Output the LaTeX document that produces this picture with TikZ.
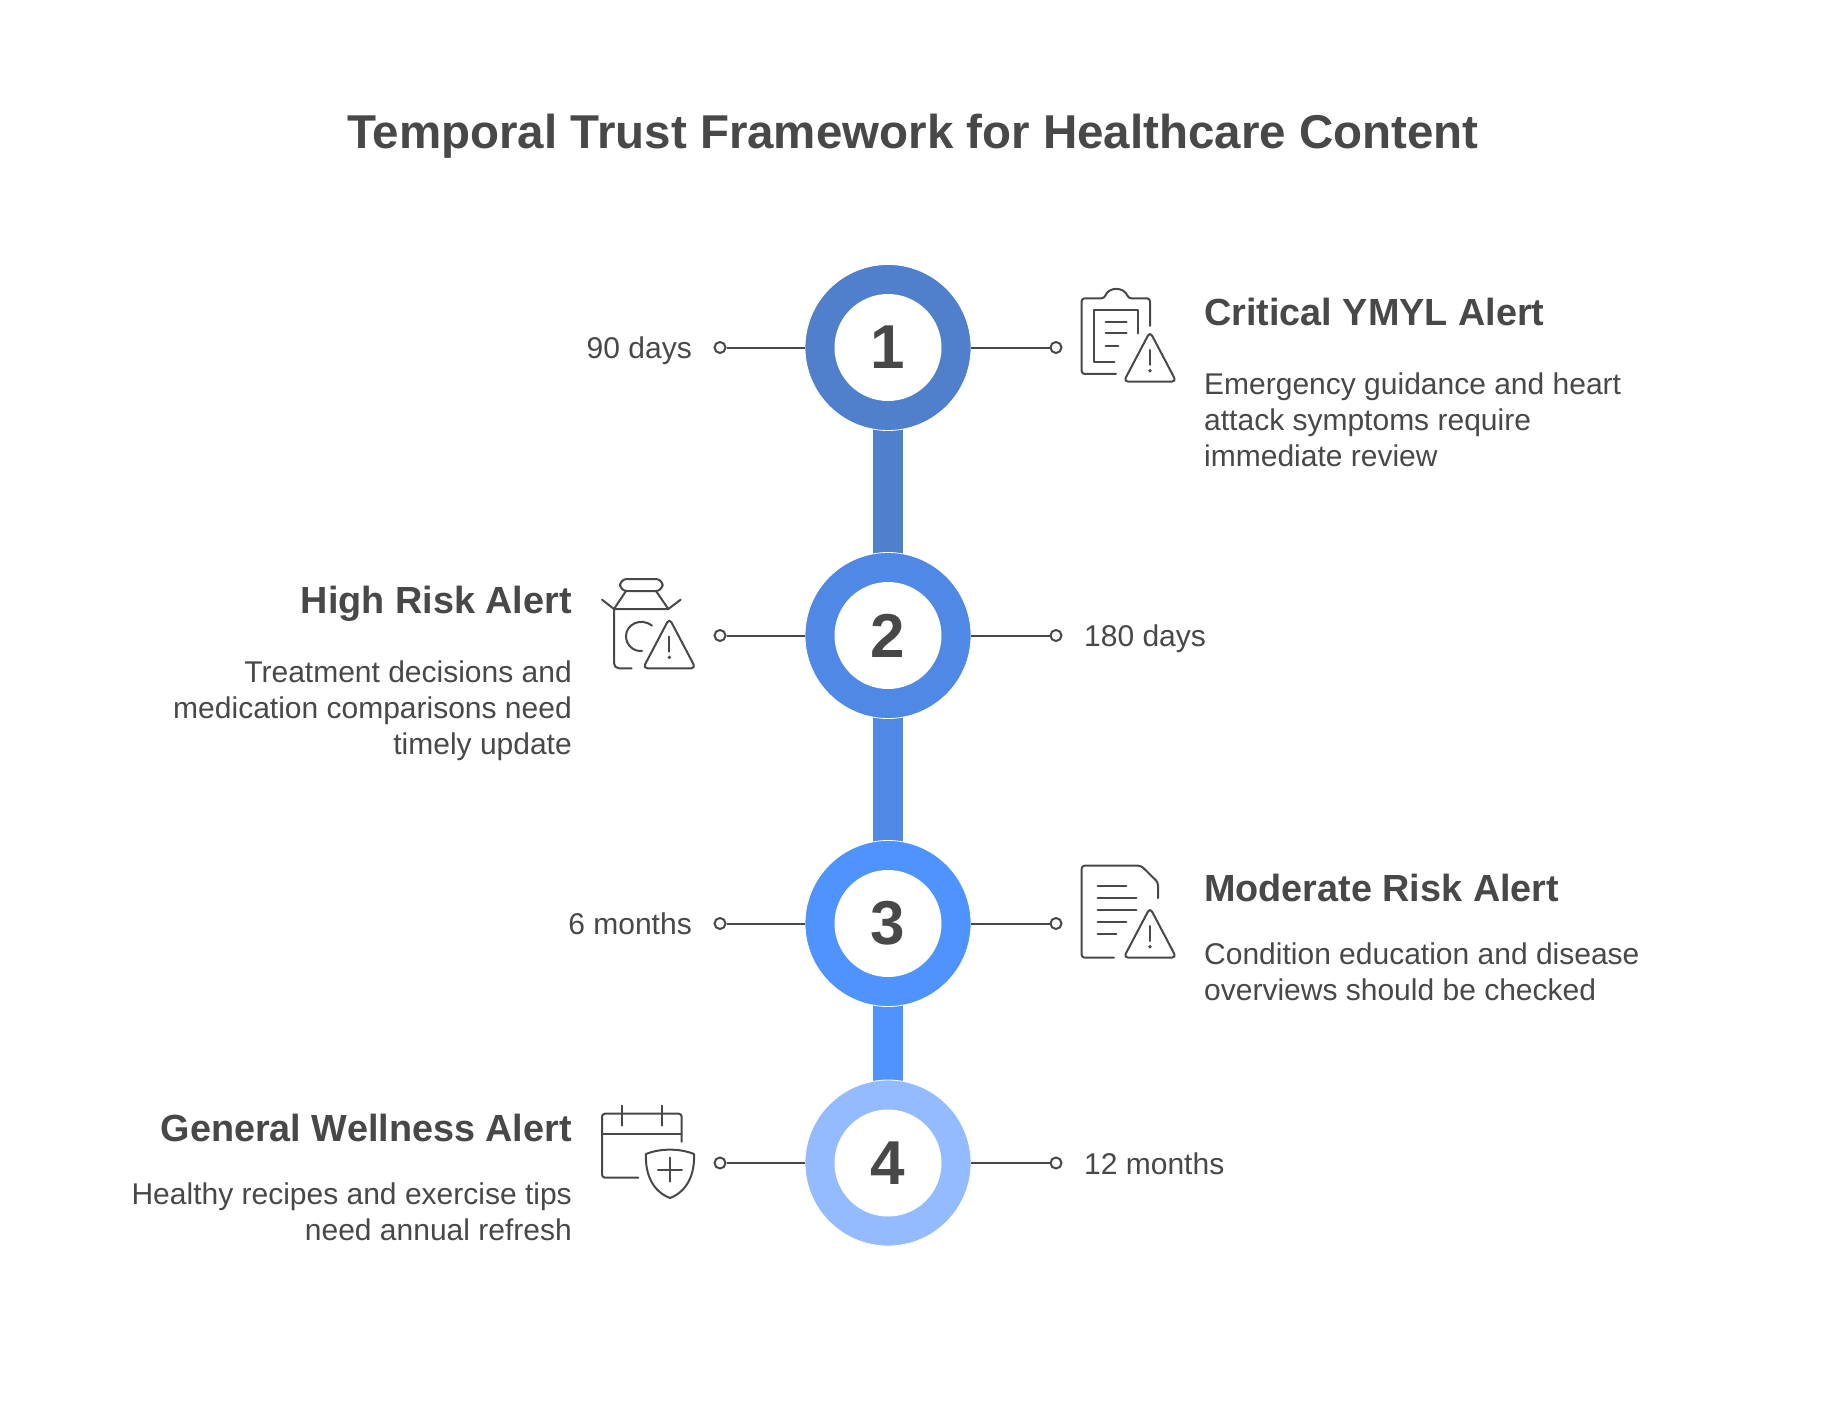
\documentclass[tikz,border=0pt]{standalone}
\usepackage{fontspec}
\setmainfont{Liberation Sans}
\definecolor{ink}{HTML}{484848}
\definecolor{cA}{HTML}{5080CC}
\definecolor{cB}{HTML}{4F88E5}
\definecolor{cC}{HTML}{4F93FF}
\definecolor{cD}{HTML}{94BBFF}
\newcommand{\warnicon}[2]{%
  \draw[iconline,rounded corners=4.5pt] (#1-79,#2) -- (#1,#2-150) -- (#1+79,#2) -- cycle;
  \draw[iconline] (#1,#2-95) -- (#1,#2-50);
  \fill[ink] (#1,#2-33) circle (1.9pt);
}
\tikzset{
  x=1pt,y=-1pt,
  iconline/.style={draw=ink,line width=2pt,line cap=round,line join=round},
  ring/.style={circle,inner sep=0pt,minimum size=166pt,draw=white,line width=0.8pt},
  hole/.style={circle,inner sep=0pt,minimum size=107pt,fill=white,text=ink,font=\fontsize{62}{62}\selectfont\bfseries},
  bar/.style={line width=30pt},
  tick/.style={draw=ink,line width=2pt},
  knob/.style={circle,inner sep=0pt,minimum size=11pt,draw=ink,line width=2pt,fill=white},
  headR/.style={anchor=base west,inner sep=0pt,text=ink,font=\fontsize{37.8}{38}\selectfont\bfseries},
  headL/.style={anchor=base east,inner sep=0pt,text=ink,font=\fontsize{37.8}{38}\selectfont\bfseries},
  bodyR/.style={anchor=base west,inner sep=0pt,text=ink,font=\fontsize{30}{30}\selectfont},
  bodyL/.style={anchor=base east,inner sep=0pt,text=ink,font=\fontsize{30}{30}\selectfont},
}
\begin{document}
\begin{tikzpicture}
\useasboundingbox[fill=white] (0,0) rectangle (1824,1416);
\node[anchor=base,inner sep=0pt,text=ink,font=\fontsize{47.5}{48}\selectfont\bfseries] (title) at (913,148) {Temporal Trust Framework for Healthcare Content};

\coordinate (p1) at (888,347.5);
\coordinate (p2) at (888,635.5);
\coordinate (p3) at (888,923.5);
\coordinate (p4) at (888,1163);

\draw[bar,cA] (p1) -- (p2);
\draw[bar,cB] (p2) -- (p3);
\draw[bar,cC] (p3) -- (p4);

\node[ring,fill=cA] (r1) at (p1) {};
\node[ring,fill=cB] (r2) at (p2) {};
\node[ring,fill=cC] (r3) at (p3) {};
\node[ring,fill=cD] (r4) at (p4) {};
\node[hole] (n1) at (p1) {\raisebox{-1pt}{1}};
\node[hole] (n2) at (p2) {\raisebox{-1pt}{2}};
\node[hole] (n3) at (p3) {\raisebox{-1pt}{3}};
\node[hole] (n4) at (p4) {\raisebox{-1pt}{4}};

\node[knob] (l1) at (720,347.5) {};
\node[knob] (l2) at (720,635.5) {};
\node[knob] (l3) at (720,923.5) {};
\node[knob] (l4) at (720,1163) {};
\node[knob] (k1) at (1056,347.5) {};
\node[knob] (k2) at (1056,635.5) {};
\node[knob] (k3) at (1056,923.5) {};
\node[knob] (k4) at (1056,1163) {};
\foreach \i in {1,2,3,4} {
  \draw[tick] (l\i) -- (r\i);
  \draw[tick] (r\i) -- (k\i);
}

\node[bodyL] (t1) at (692,358) {90 days};
\node[bodyR] (t2) at (1084,646) {180 days};
\node[bodyL] (t3) at (692,934) {6 months};
\node[bodyR] (t4) at (1084,1174) {12 months};

\node[headR] (h1) at (1204,325.5) {Critical YMYL Alert};
\node[bodyR] (a1) at (1204,394) {Emergency guidance and heart};
\node[bodyR] (a2) at (1204,430) {attack symptoms require};
\node[bodyR] (a3) at (1204,466) {immediate review};

\node[headL] (h2) at (572,613.5) {High Risk Alert};
\node[bodyL] (b1) at (572,682) {Treatment decisions and};
\node[bodyL] (b2) at (572,718) {medication comparisons need};
\node[bodyL] (b3) at (572,754) {timely update};

\node[headR] (h3) at (1204,901.5) {Moderate Risk Alert};
\node[bodyR] (c1) at (1204,964) {Condition education and disease};
\node[bodyR] (c2) at (1204,1000) {overviews should be checked};

\node[headL] (h4) at (572,1141.5) {General Wellness Alert};
\node[bodyL] (d1) at (572,1204) {Healthy recipes and exercise tips};
\node[bodyL] (d2) at (572,1240) {need annual refresh};

% icon 1
\begin{scope}[shift={(1050,270)},x=0.3333pt,y=-0.3333pt]
  \draw[iconline,rounded corners=3pt] (300,168) -- (300,85) -- (235,85) .. controls (222,50) and (176,50) .. (163,85) -- (95,85) -- (95,312) -- (198,312);
  \draw[iconline] (265,190) -- (265,120) -- (132,120) -- (132,275) -- (193,275);
  \draw[iconline] (167,155) -- (230,155) (167,190) -- (230,190) (167,227) -- (205,227);
  \warnicon{300}{335}
\end{scope}
% icon 2
\begin{scope}[shift={(590,560)},x=0.3333pt,y=-0.3333pt]
  \draw[iconline,rounded corners=7pt] (150,57) -- (90,57) -- (90,93) -- (218,93) -- (218,57) -- cycle;
  \draw[iconline] (108,93) -- (72,147) -- (235,147) -- (198,93);
  \draw[iconline] (36,119) -- (72,147) (272,119) -- (235,147);
  \draw[iconline,rounded corners=5pt] (72,147) -- (72,325) -- (125,325);
  \draw[iconline] (186,197) .. controls (150,170) and (108,195) .. (108,228) .. controls (108,255) and (130,275) .. (156,273);
  \warnicon{238}{325}
\end{scope}
% icon 3
\begin{scope}[shift={(1050,850)},x=0.3333pt,y=-0.3333pt]
  \draw[iconline,rounded corners=3pt] (324,144) -- (324,97) -- (273,47) -- (95,47) -- (95,323) -- (192,323);
  \draw[iconline] (143,107) -- (229,107) (143,144) -- (259,144) (143,180) -- (259,180) (143,215) -- (229,215) (143,251) -- (199,251);
  \warnicon{300}{323}
\end{scope}
% icon 4
\begin{scope}[shift={(590,1090)},x=0.3333pt,y=-0.3333pt]
  \draw[iconline,rounded corners=3pt] (275,155) -- (275,71) -- (36,71) -- (36,263) -- (145,263);
  \draw[iconline] (36,131) -- (275,131);
  \draw[iconline] (96,47) -- (96,107) (216,47) -- (216,107);
  \draw[iconline] (240,179) .. controls (215,179) and (190,183) .. (168,192) .. controls (165,255) and (190,305) .. (240,324) .. controls (290,305) and (315,255) .. (312,192) .. controls (290,183) and (265,179) .. (240,179) -- cycle;
  \draw[iconline] (204,239) -- (276,239) (240,203) -- (240,275);
\end{scope}
\end{tikzpicture}
\end{document}
